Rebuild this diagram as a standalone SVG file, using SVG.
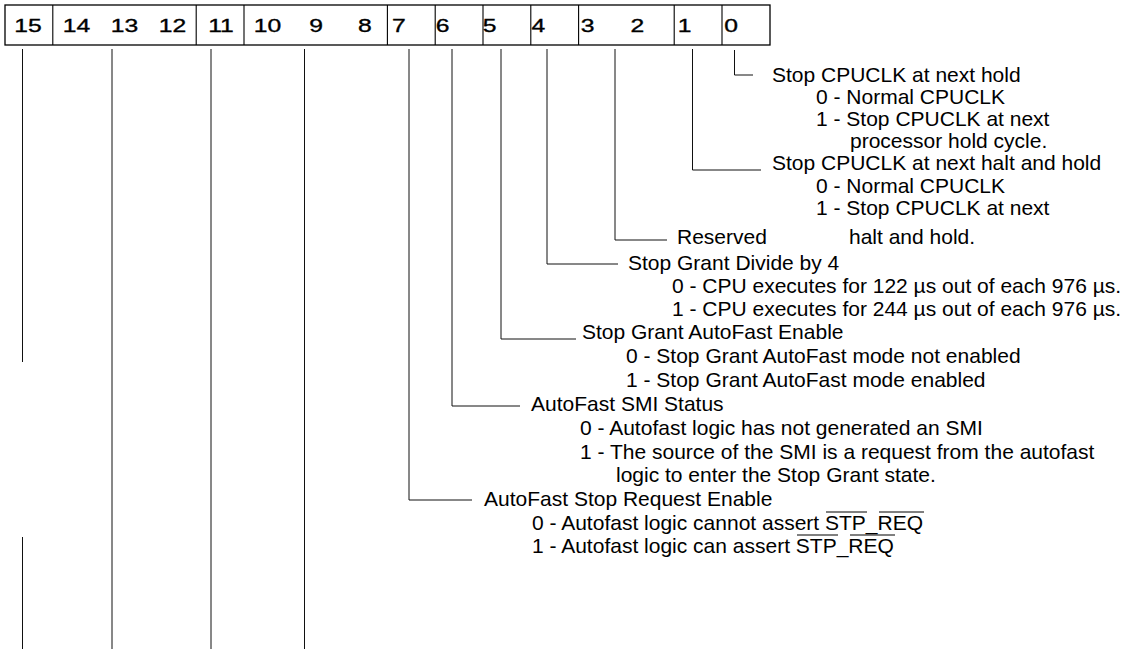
<svg xmlns="http://www.w3.org/2000/svg" width="1130" height="649" viewBox="0 0 1130 649">
<style>
text{font-family:"Liberation Sans",Arial,Helvetica,sans-serif;font-size:21px;fill:#000}
.d{font-size:19px;text-anchor:middle;stroke:#000;stroke-width:0.35}
.box{fill:#fff;stroke:#000;stroke-width:1.3}
.div{stroke:#000;stroke-width:1.1}
.c{fill:none;stroke:#111;stroke-width:1}
.ov{fill:none;stroke:#000;stroke-width:1}
</style>
<rect width="1130" height="649" fill="#fff"/>
<g id="register">
<rect class="box" x="5" y="5" width="765" height="40"/>
<path class="div" d="M52.8 5V45M196.2 5V45M244 5V45M387.4 5V45M435.2 5V45M483 5V45M530.8 5V45M578.6 5V45M674.2 5V45M722 5V45"/>
<g transform="scale(1.3 1)">
<text class="d" x="21.54" y="32">15</text>
<text class="d" x="58.85" y="32">14</text>
<text class="d" x="95.77" y="32">13</text>
<text class="d" x="132.69" y="32">12</text>
<text class="d" x="170" y="32">11</text>
<text class="d" x="205.77" y="32">10</text>
<text class="d" x="243.08" y="32">9</text>
<text class="d" x="280.77" y="32">8</text>
<text class="d" x="306.92" y="32">7</text>
<text class="d" x="340.38" y="32">6</text>
<text class="d" x="376.54" y="32">5</text>
<text class="d" x="414.23" y="32">4</text>
<text class="d" x="451.92" y="32">3</text>
<text class="d" x="490.38" y="32">2</text>
<text class="d" x="526.54" y="32">1</text>
<text class="d" x="562.31" y="32">0</text>
</g>
</g>
<g id="connectors">
<path class="c" d="M22.5 49V362M22.5 537V649"/>
<path class="c" d="M112 49V649"/>
<path class="c" d="M211 49V649"/>
<path class="c" d="M304.5 49V649"/>
<path class="c" d="M409 49V500H472"/>
<path class="c" d="M452 49V406H520"/>
<path class="c" d="M501 49V339H576"/>
<path class="c" d="M547 49V264H618"/>
<path class="c" d="M615 49V240H667"/>
<path class="c" d="M692.5 49V170H761"/>
<path class="c" d="M734.5 50V75H753"/>
</g>
<g id="bit0">
<text x="772" y="82">Stop CPUCLK at next hold</text>
<text x="816" y="104">0 - Normal CPUCLK</text>
<text x="816" y="126">1 - Stop CPUCLK at next</text>
<text x="850" y="148">processor hold cycle.</text>
</g>
<g id="bit1">
<text x="772" y="170">Stop CPUCLK at next halt and hold</text>
<text x="816" y="193">0 - Normal CPUCLK</text>
<text x="816" y="215">1 - Stop CPUCLK at next</text>
<text x="849" y="244">halt and hold.</text>
</g>
<g id="bits3-2">
<text x="677" y="244">Reserved</text>
</g>
<g id="bit4">
<text x="628" y="270">Stop Grant Divide by 4</text>
<text x="672" y="293">0 - CPU executes for 122 µs out of each 976 µs.</text>
<text x="672" y="316">1 - CPU executes for 244 µs out of each 976 µs.</text>
</g>
<g id="bit5">
<text x="582" y="339">Stop Grant AutoFast Enable</text>
<text x="626" y="363">0 - Stop Grant AutoFast mode not enabled</text>
<text x="626" y="387">1 - Stop Grant AutoFast mode enabled</text>
</g>
<g id="bit6">
<text x="531" y="411">AutoFast SMI Status</text>
<text x="580" y="435">0 - Autofast logic has not generated an SMI</text>
<text x="580" y="459">1 - The source of the SMI is a request from the autofast</text>
<text x="616" y="482">logic to enter the Stop Grant state.</text>
</g>
<g id="bit7">
<text x="484" y="506">AutoFast Stop Request Enable</text>
<text x="532" y="530">0 - Autofast logic cannot assert STP_REQ</text>
<text x="532" y="553">1 - Autofast logic can assert STP_REQ</text>
<path class="ov" d="M826 512H867M879 512H924M797 535H838M850 535H895"/>
</g>
</svg>
